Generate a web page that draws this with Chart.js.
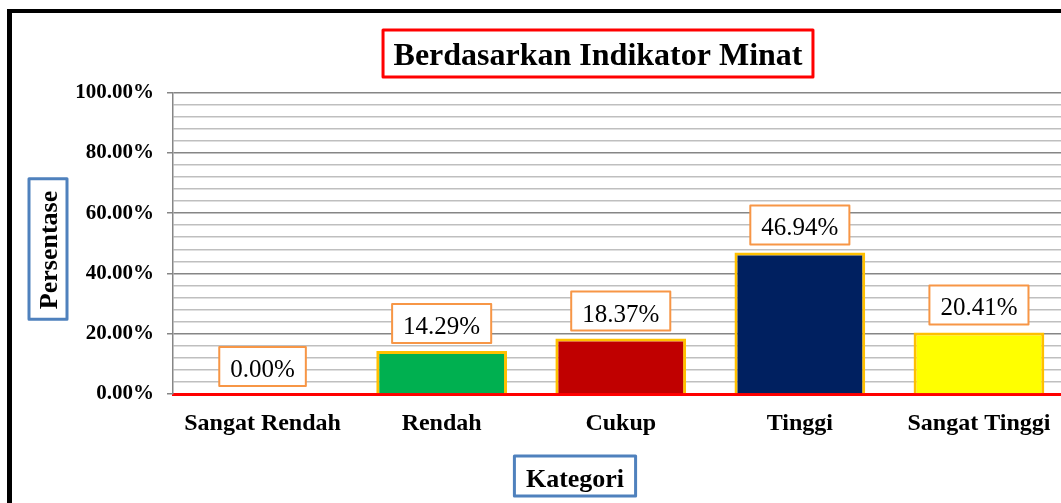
<!DOCTYPE html>
<html>
<head>
<meta charset="utf-8">
<script src="https://cdn.jsdelivr.net/npm/chart.js@4"></script>
<style>
    html, body { margin: 0; padding: 0; background: #fff; overflow: hidden; }
    #wrap { width: 1075px; height: 503px; }
</style>
</head>
<body>
<div id="wrap"><canvas id="myChart" width="1075" height="503"></canvas></div>
<script>
// data
var kategori = ['Sangat Rendah', 'Rendah', 'Cukup', 'Tinggi', 'Sangat Tinggi'];
var persentase = [0.00, 14.29, 18.37, 46.94, 20.41];
var warnaBatang = ['#4F81BD', '#00B050', '#C00000', '#002060', '#FFFF00'];
var labelY = [0, 20, 40, 60, 80, 100];
var judul = 'Berdasarkan Indikator Minat';
var judulX = 'Kategori';
var judulY = 'Persentase';

var huruf = "'Liberation Serif', 'Times New Roman', serif";

function kotak(ctx, x, y, w, h, warna, tebal) {
    ctx.save();
    ctx.fillStyle = '#fff';
    ctx.fillRect(x, y, w, h);
    ctx.strokeStyle = warna;
    ctx.lineWidth = tebal;
    ctx.lineJoin = 'round';
    ctx.strokeRect(x, y, w, h);
    ctx.restore();
}

var pluginHiasan = {
    id: 'hiasan',
    beforeDraw: function (chart) {
        var ctx = chart.ctx;
        ctx.save();
        ctx.fillStyle = '#fff';
        ctx.fillRect(0, 0, chart.width, chart.height);
        ctx.fillStyle = '#000';
        ctx.fillRect(7, 9, 5, chart.height);
        ctx.fillRect(7, 9, chart.width, 4);
        ctx.restore();
    },
    afterDatasetsDraw: function (chart) {
        var ctx = chart.ctx;
        var meta = chart.getDatasetMeta(0);
        ctx.save();
        ctx.font = '25px ' + huruf;
        ctx.textAlign = 'center';
        ctx.textBaseline = 'alphabetic';
        meta.data.forEach(function (bar, i) {
            var teks = persentase[i].toFixed(2) + '%';
            var w = ctx.measureText(teks).width + 22;
            var h = 39;
            var bawah = bar.y - 8;
            kotak(ctx, bar.x - w / 2, bawah - h, w, h, '#F79646', 2);
            ctx.fillStyle = '#000';
            ctx.fillText(teks, bar.x, bawah - 9);
        });
        ctx.restore();
    },
    afterDraw: function (chart) {
        var ctx = chart.ctx;
        ctx.save();
        ctx.fillStyle = '#000';
        ctx.textAlign = 'center';
        ctx.textBaseline = 'alphabetic';

        // judul grafik
        ctx.font = 'bold 32px ' + huruf;
        var wj = ctx.measureText(judul).width + 21;
        kotak(ctx, 598 - wj / 2, 30, wj, 47, '#FF0000', 3);
        ctx.fillStyle = '#000';
        ctx.fillText(judul, 598, 65);

        // judul sumbu x
        ctx.font = 'bold 26px ' + huruf;
        var wx = ctx.measureText(judulX).width + 23;
        kotak(ctx, 575 - wx / 2, 456, wx, 40, '#4F81BD', 3);
        ctx.fillStyle = '#000';
        ctx.fillText(judulX, 575, 486.5);

        // judul sumbu y
        var wy = ctx.measureText(judulY).width + 22;
        kotak(ctx, 29, 249 - wy / 2, 38, wy, '#4F81BD', 3);
        ctx.translate(57, 250);
        ctx.rotate(-Math.PI / 2);
        ctx.fillStyle = '#000';
        ctx.fillText(judulY, 0, 0);
        ctx.restore();
    }
};

function isMayor(v) {
    return labelY.indexOf(Math.round(v)) !== -1;
}

var ctx = document.getElementById('myChart');
var myChart = new Chart(ctx, {
    type: 'bar',
    data: {
        labels: kategori,
        datasets: [{
            label: judulY,
            data: persentase,
            backgroundColor: warnaBatang,
            borderColor: '#FFC000',
            borderWidth: 3,
            barPercentage: 0.73,
            categoryPercentage: 1
        }]
    },
    options: {
        responsive: false,
        animation: false,
        layout: {
            padding: { top: 92.5, right: 6.5, left: 0, bottom: 0 }
        },
        plugins: {
            legend: { display: false },
            title: { display: false },
            tooltip: { enabled: false }
        },
        scales: {
            x: {
                z: 1,
                grid: { display: false, drawTicks: false },
                border: { display: true, color: '#FF0000', width: 3 },
                ticks: {
                    color: '#000',
                    padding: 15,
                    font: { family: huruf, size: 24, weight: 'bold' }
                },
                afterFit: function (scale) { scale.height = 109; }
            },
            y: {
                min: 0,
                max: 100,
                grid: {
                    color: function (c) { return isMayor(c.tick.value) ? '#868686' : '#BFBFBF'; },
                    tickColor: function (c) { return isMayor(c.tick.value) ? '#868686' : 'rgba(0,0,0,0)'; },
                    lineWidth: 1.5,
                    tickLength: 6
                },
                border: { display: true, color: '#868686', width: 1.5 },
                ticks: {
                    stepSize: 4,
                    autoSkip: false,
                    color: '#000',
                    padding: 13,
                    font: { family: huruf, size: 21, weight: 'bold' },
                    callback: function (v) { return isMayor(v) ? Number(v).toFixed(2) + '%' : ''; }
                },
                afterFit: function (scale) { scale.width = 173; }
            }
        }
    },
    plugins: [pluginHiasan]
});
</script>
</body>
</html>
